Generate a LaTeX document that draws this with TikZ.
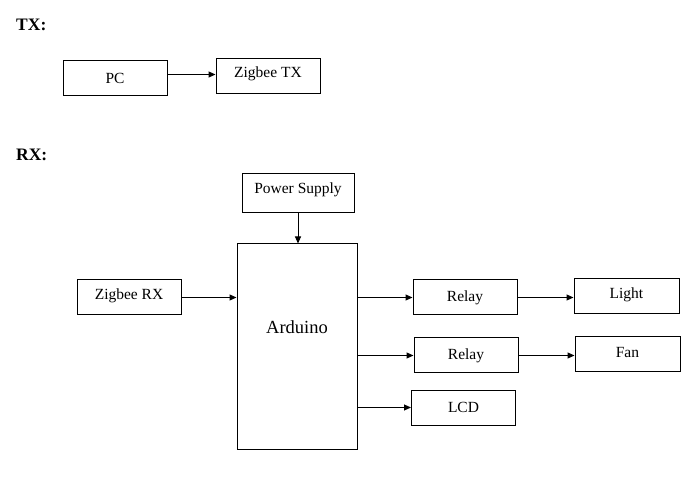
\documentclass[tikz,border=0pt]{standalone}
\usepackage{fontspec}
\setmainfont{Liberation Serif}
\usetikzlibrary{arrows.meta}
\newcommand{\upby}[2]{\raisebox{#1}[\height][\depth]{#2}}
\begin{document}
\begin{tikzpicture}[x=1pt,y=-1pt,
  blk/.style={draw,line width=1pt,inner sep=0pt,minimum width=104pt,minimum height=35pt,font=\fontsize{15.5}{18}\selectfont},
  hdr/.style={font=\fontsize{17.5}{20}\selectfont\bfseries,anchor=west,inner sep=0pt},
  arr/.style={line width=1pt,-{Triangle[length=7pt,width=6pt]}}]
\useasboundingbox (0,0) rectangle (691,486);
\node[hdr] (tx) at (16,25) {TX:};
\node[hdr] (rx) at (16,155) {RX:};
\node[blk] (pc) at (115,78.5) {PC};
\node[blk] (ztx) at (268,76.5) {\upby{2.5pt}{Zigbee TX}};
\node[blk,minimum width=112pt,minimum height=39pt] (ps) at (298,193.5) {\upby{3.5pt}{Power Supply}};
\node[blk,minimum width=120pt,minimum height=205pt,font=\fontsize{18.5}{22}\selectfont] (ard) at (297,346.5) {\raisebox{38pt}{Arduino}};
\node[blk] (zrx) at (129,297.5) {\upby{2pt}{Zigbee RX}};
\node[blk] (r1) at (465,297.5) {Relay};
\node[blk,minimum width=105pt] (light) at (626.5,296.5) {\upby{2pt}{Light}};
\node[blk] (r2) at (466,355.5) {Relay};
\node[blk,minimum width=105pt] (fan) at (627.5,354.5) {\upby{2pt}{Fan}};
\node[blk] (lcd) at (463.5,407.5) {LCD};
\draw[arr] ([yshift=4pt]pc.east) -- ([yshift=4pt]pc.east -| ztx.west);
\draw[arr] (ps.south) -- (ps.south |- ard.north);
\draw[arr] (zrx.east) -- (zrx.east -| ard.west);
\draw[arr] (ard.east |- r1.west) -- (r1.west);
\draw[arr] (ard.east |- r2.west) -- (r2.west);
\draw[arr] (ard.east |- lcd.west) -- (lcd.west);
\draw[arr] (r1.east) -- (r1.east -| light.west);
\draw[arr] (r2.east) -- (r2.east -| fan.west);
\end{tikzpicture}
\end{document}
